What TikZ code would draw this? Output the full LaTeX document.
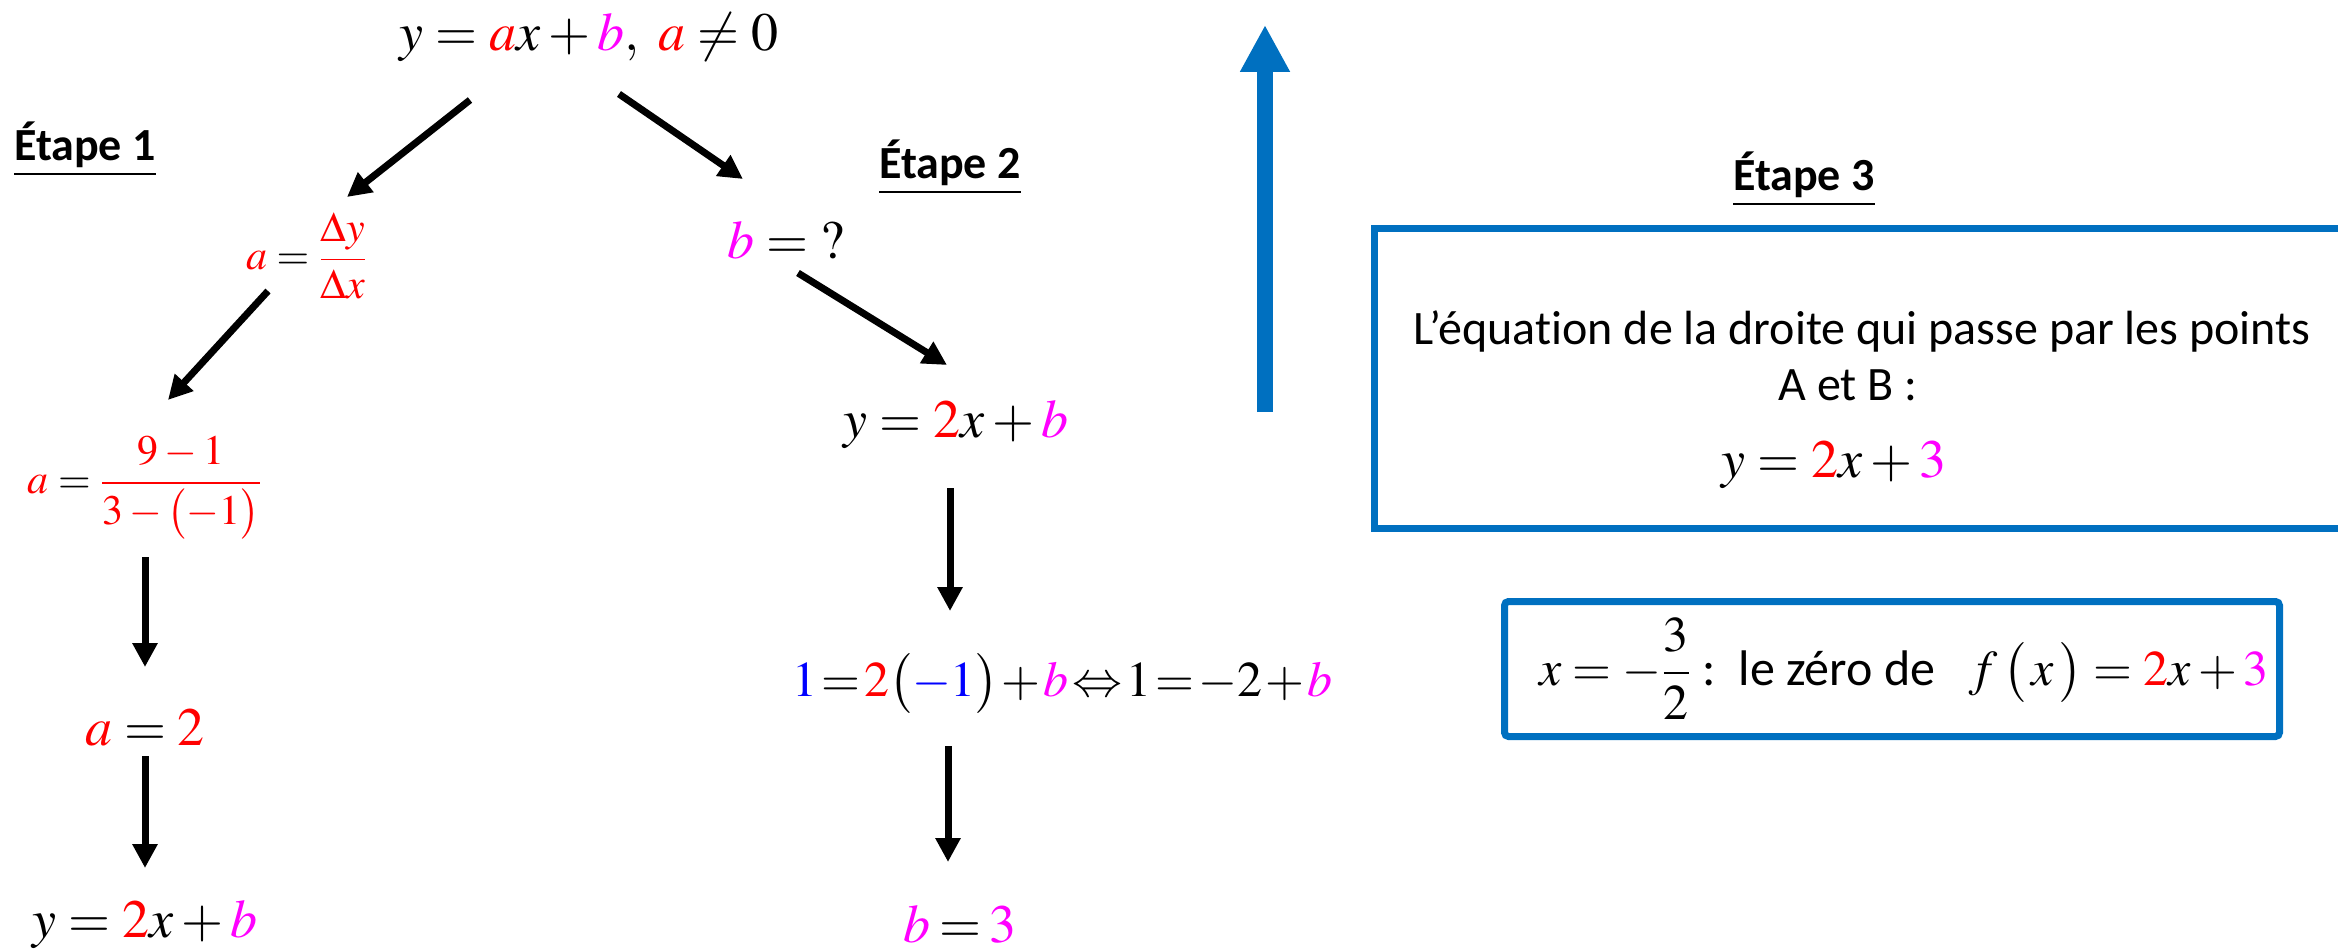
\documentclass[tikz,border=0pt]{standalone}
\usepackage{amsmath}
\usepackage{mathptmx}
\usepackage[no-math]{fontspec}
\setmainfont{Carlito}[Ligatures=NoCommon]
\usepackage{tikz}
\usetikzlibrary{arrows.meta}
\definecolor{cRed}{HTML}{FF0000}
\definecolor{cMag}{HTML}{FF00FF}
\definecolor{cBlue}{HTML}{0000FF}
\definecolor{cBox}{HTML}{0070C0}
\newcommand{\ra}[1]{{\color{cRed}#1}}
\newcommand{\mb}[1]{{\color{cMag}#1}}
\newcommand{\bu}[1]{{\color{cBlue}#1}}
\tikzset{
  eqn/.style={inner sep=0pt, font=\fontsize{27}{32}\selectfont},
  eqs/.style={inner sep=0pt, font=\fontsize{21}{26}\selectfont},
  etape/.style={inner sep=0pt, font=\fontsize{23}{28}\selectfont\bfseries},
  txt/.style={inner sep=0pt, font=\fontsize{24}{29}\selectfont},
  ar/.style={-{Triangle[length=12pt,width=12pt]}, line width=3.5pt},
  frame/.style={draw=cBox, line width=3.5pt},
}

\begin{document}
\begin{tikzpicture}[x=0.5pt, y=-0.5pt]
\useasboundingbox (0,0) rectangle (2338,952);
% stage titles
\node[etape] (et1) at (85,149) {\underline{Étape 1}};
\node[etape] (et2) at (950,167) {\underline{Étape 2}};
\node[etape] (et3) at (1804,179) {\underline{Étape 3}};
% tree of steps
\node[eqn] (title) at (589,37) {$y=\ra{a}x+\mb{b},\ \ra{a}\neq 0$};
\node[eqs] (slope) at (307,256) {$\ra{a}=\ra{\dfrac{\Delta y}{\Delta x}}$};
\node[eqn] (bq) at (786,240) {$\mb{b}={?}$};
\node[eqs] (frac) at (145,488) {$\ra{a}=\ra{\dfrac{9-1}{3-\bigl(-1\bigr)}}$};
\node[eqn] (eqR) at (956,424) {$y=\ra{2}x+\mb{b}$};
\node[eqn] (aeq) at (145,728) {$\ra{a}=\ra{2}$};
\node[eqn, font=\fontsize{25}{30}\selectfont] (subst) at (1062,684)
  {\thickmuskip=1.5mu\medmuskip=1mu$\bu{1}=\ra{2}\bigl(\bu{-1}\bigr)+\mb{b}\Leftrightarrow 1=-2+\mb{b}$};
\node[eqn] (eqL) at (145,924) {$y=\ra{2}x+\mb{b}$};
\node[eqn] (b3) at (960,924) {\thickmuskip=3mu$\mb{b}=\mb{3}$};
\draw[ar] ([shift={(-119,63)}]title.center) -- ([shift={(40,-59)}]slope.center);
\draw[ar] ([shift={(30,57)}]title.center) -- ([shift={(-43,-61)}]bq.center);
\draw[ar] ([shift={(-39,35)}]slope.center) -- ([shift={(23,-88)}]frac.center);
\draw[ar] ([shift={(12,33)}]bq.center) -- ([shift={(-9,-59)}]eqR.center);
\draw[ar] ([yshift=-34.5pt]frac.center) -- ([yshift=30.5pt]aeq.center);
\draw[ar] ([shift={(-6,64)}]eqR.center) -- ([shift={(-112,-73)}]subst.center);
\draw[ar] ([yshift=-14pt]aeq.center) -- ([yshift=28pt]eqL.center);
\draw[ar] ([shift={(-114,62)}]subst.center) -- ([shift={(-12,-62)}]b3.center);
% upward arrow
\coordinate (up0) at (1265,412);
\coordinate (up1) at (1265,25);
\draw[cBox, line width=8pt, -{Triangle[length=23.5pt,width=23.5pt]}] (up0) -- (up1);
% result boxes
\draw[frame] (1374,229) rectangle (2420,528);
\node[txt] (line1) at (1862,331) {L’équation de la droite qui passe par les points};
\node[txt] (line2) at (1848,385) {A et B :};
\node[eqn] (result) at (1834,465) {$y=\ra{2}x+\mb{3}$};
\node[frame, rounded corners=2pt, minimum width=387.5pt, minimum height=67.5pt,
      inner sep=0pt, font=\fontsize{25}{30}\selectfont] (zero) at (1892,669)
  {\hspace*{12pt}$x=-\dfrac{3}{2}$\ :\ \ le zéro de\ \ \ $f\,\bigl(\,x\,\bigr)=\ra{2}x+\mb{3}$};
\end{tikzpicture}
\end{document}
